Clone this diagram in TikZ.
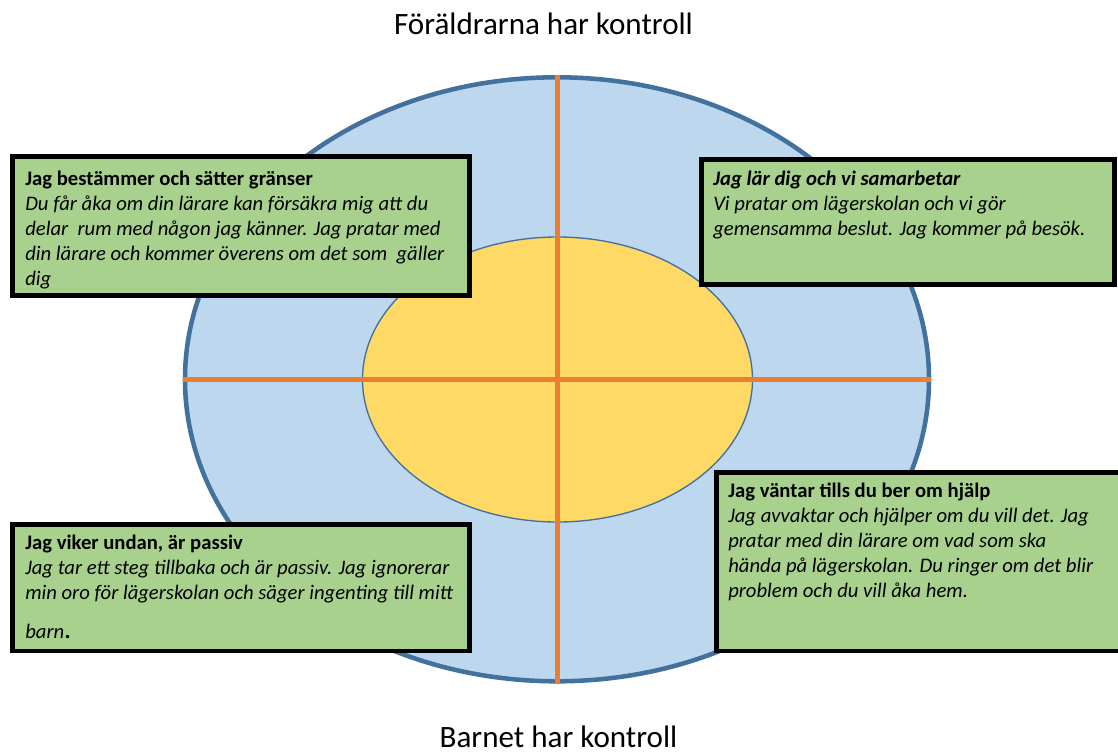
\documentclass[tikz,border=0pt]{standalone}
\usepackage{fontspec}
\setmainfont{Carlito}
\usepackage{tikz}
\usetikzlibrary{positioning}
\usetikzlibrary{shapes.geometric}
\definecolor{ljusbla}{HTML}{BDD7EE}
\definecolor{kantbla}{HTML}{41719C}
\definecolor{gul}{HTML}{FFD966}
\definecolor{korsorange}{HTML}{ED7D31}
\definecolor{gron}{HTML}{A9D18E}
\tikzstyle{ruta} = [rectangle, draw=black, line width=3.4pt, fill=gron, anchor=north west, inner sep=0pt]
\tikzstyle{rutatext} = [anchor=base west, align=left, inner sep=0pt, font=\fontsize{15.5}{18.75}\selectfont]
\tikzstyle{rubrik} = [anchor=base, inner sep=0pt, font=\fontsize{23.3}{28}\selectfont]

\begin{document}
\begin{tikzpicture}[x=0.75pt,y=-0.75pt,
				kors/.style = {draw=korsorange, line width=3.75pt},
				]
				\useasboundingbox (0,0) rectangle (1118,753);
				\clip (0,0) rectangle (1118,753);
				% ellipses
				\node (ytter) [ellipse, draw=kantbla, line width=3.4pt, fill=ljusbla,
				minimum width=558pt, minimum height=453pt, inner sep=0pt] at (557,379.3) {};
				\node (inre) [ellipse, draw=kantbla, line width=1pt, fill=gul,
				minimum width=292.5pt, minimum height=213.75pt, inner sep=0pt] at (557.5,379.5) {};
				\draw[kors] (ytter.north) -- (ytter.south);
				\draw[kors] (ytter.west) -- (ytter.east);
				% headings
				\node (topp) [rubrik] at (543.5,35) {Föräldrarna har kontroll};
				\node (botten) [rubrik] at (558.5,747) {Barnet har kontroll};
				% boxes (text anchored at the last line)
				\node (ruta1) [ruta, minimum width=343.1pt, minimum height=104.6pt] at (10,154) {};
				\node (ruta2) [ruta, minimum width=310.1pt, minimum height=94.1pt] at (699,157) {};
				\node (ruta3) [ruta, minimum width=343.1pt, minimum height=94.9pt] at (10,522) {};
				\node (ruta4) [ruta, minimum width=305.6pt, minimum height=133.9pt] at (714,470) {};
				\node (text1) [rutatext] at (25,285) {\textbf{Jag bestämmer och sätter gränser}\\
					\textit{Du får åka om din lärare kan försäkra mig att du}\\
					\textit{delar\ \ rum med någon jag känner. Jag pratar med}\\
					\textit{din lärare och kommer överens om det som\ \ gäller}\\
					\textit{dig}};
				\node (text2) [rutatext] at (713,235) {\textbf{\textit{Jag lär dig och vi samarbetar}}\\
					\textit{Vi pratar om lägerskolan och vi gör}\\
					\textit{gemensamma beslut. Jag kommer på besök.}};
				\node (text3) [rutatext] at (25,638) {\textbf{Jag viker undan, är passiv}\\
					\textit{Jag tar ett steg tillbaka och är passiv. Jag ignorerar}\\
					\textit{min oro för lägerskolan och säger ingenting till mitt}\\[10.5pt]
					\textit{barn}{\fontsize{21}{21}\selectfont .}};
				\node (text4) [rutatext] at (728,597) {\textbf{Jag väntar tills du ber om hjälp}\\
					\textit{Jag avvaktar och hjälper om du vill det. Jag}\\
					\textit{pratar med din lärare om vad som ska}\\
					\textit{hända på lägerskolan. Du ringer om det blir}\\
					\textit{problem och du vill åka hem.}};
			\end{tikzpicture}
\end{document}
